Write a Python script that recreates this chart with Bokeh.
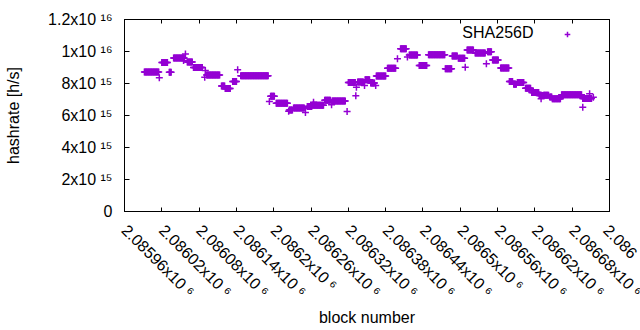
import numpy as np
from math import pi
from bokeh.plotting import figure
from bokeh.models import Range1d, LinearAxis, FixedTicker, Label, Legend, LegendItem
from bokeh.embed import file_html
from bokeh.resources import INLINE

# ---------------- data ----------------
block_base = 2085960
# runs of consecutive blocks sharing the same hashrate estimate (offsets from block_base)
run_first = [32, 60, 72, 79, 101, 111, 132, 156, 162, 174, 187, 235, 244, 265, 272, 294, 302,
             322, 334, 360, 375, 387, 396, 405, 423, 444, 458, 474, 489, 516, 527, 537, 551,
             564, 584, 592, 605, 619, 626, 632, 645, 655, 667, 674, 684, 688, 703, 737]
run_last = [55, 69, 75, 96, 109, 125, 153, 161, 170, 180, 231, 241, 262, 270, 289, 301, 320,
            331, 355, 371, 384, 394, 402, 420, 436, 453, 471, 486, 515, 526, 535, 547, 561,
            580, 590, 601, 618, 624, 630, 642, 653, 666, 672, 682, 687, 701, 735, 751]
run_rate = [8.72e15, 9.31e15, 8.71e15, 9.60e15, 9.35e15, 9.00e15, 8.53e15, 7.84e15, 7.69e15,
            8.12e15, 8.48e15, 7.20e15, 6.77e15, 6.34e15, 6.47e15, 6.56e15, 6.64e15, 6.95e15,
            6.90e15, 8.06e15, 8.10e15, 8.23e15, 8.03e15, 8.47e15, 8.95e15, 10.17e15, 9.78e15,
            9.12e15, 9.79e15, 8.92e15, 9.72e15, 9.58e15, 10.10e15, 9.91e15, 9.98e15, 9.47e15,
            8.97e15, 8.12e15, 7.96e15, 8.06e15, 7.71e15, 7.44e15, 7.25e15, 7.27e15, 7.16e15,
            7.04e15, 7.29e15, 7.06e15]
# isolated blocks
single_block = [56, 98, 95, 129, 130, 182, 233, 264, 291, 304, 333, 358, 372, 373, 386, 404,
                439, 455, 548, 582, 670, 737, 748, 754]
single_rate = [8.36e15, 9.84e15, 9.44e15, 8.39e15, 8.81e15, 8.86e15, 6.87e15, 6.27e15, 6.19e15,
               6.83e15, 6.67e15, 6.25e15, 7.24e15, 7.77e15, 7.87e15, 7.87e15, 9.54e15, 9.65e15,
               9.02e15, 9.23e15, 7.04e15, 6.52e15, 7.36e15, 7.14e15]

series_name = "SHA256D"
x_title = "block number"
y_title = "hashrate [h/s]"

xtick_vals = [2085960, 2086020, 2086080, 2086140, 2086200, 2086260, 2086320,
              2086380, 2086440, 2086500, 2086560, 2086620, 2086680, 2086740]
# the last label is cut by the window edge in the reference; only its visible part is kept
xtick_text = ["2.08596x10 \u2076", "2.08602x10 \u2076", "2.08608x10 \u2076", "2.08614x10 \u2076",
              "2.0862x10 \u2076", "2.08626x10 \u2076", "2.08632x10 \u2076", "2.08638x10 \u2076",
              "2.08644x10 \u2076", "2.0865x10 \u2076", "2.08656x10 \u2076", "2.08662x10 \u2076",
              "2.08668x10 \u2076", "2.086"]
ytick_vals = [0, 2e15, 4e15, 6e15, 8e15, 1e16, 1.2e16]
ytick_text = ["0", "2x10 \u00b9\u2075", "4x10 \u00b9\u2075", "6x10 \u00b9\u2075",
              "8x10 \u00b9\u2075", "1x10 \u00b9\u2076", "1.2x10 \u00b9\u2076"]

# ---------------- build points ----------------
bx, by = [], []
for a, b, r in zip(run_first, run_last, run_rate):
    blocks = np.arange(a, b + 1)
    bx.extend((block_base + blocks).tolist())
    by.extend([r] * len(blocks))
bx.extend([block_base + s for s in single_block])
by.extend(single_rate)

FONT = "Liberation Sans"
COLOR = "#9400d3"
W, H = 640, 330

p = figure(width=W, height=H, output_backend="svg", toolbar_location=None,
           x_range=Range1d(xtick_vals[0], xtick_vals[-1]), y_range=Range1d(0, 1.2e16),
           min_border_left=124, min_border_right=31, min_border_top=19, min_border_bottom=119)
p.background_fill_color = "white"
p.border_fill_color = "white"
p.outline_line_color = "black"
p.outline_line_width = 1
p.xgrid.grid_line_color = None
p.ygrid.grid_line_color = None

r = p.scatter(bx, by, marker="cross", size=7, line_color=COLOR, line_width=1.5)

def style_axis(ax, ticks, tick_len):
    ax.ticker = FixedTicker(ticks=ticks)
    ax.major_tick_in = tick_len
    ax.major_tick_out = 0
    ax.minor_tick_line_color = None
    ax.axis_line_color = "black"
    ax.major_tick_line_color = "black"

xa = p.xaxis[0]
ya = p.yaxis[0]
style_axis(xa, xtick_vals, 4)
style_axis(ya, ytick_vals, 5)
xa.major_label_overrides = {v: t for v, t in zip(xtick_vals, xtick_text)}
ya.major_label_overrides = {v: t for v, t in zip(ytick_vals, ytick_text)}
for ax in (xa, ya):
    ax.major_label_text_font = FONT
    ax.major_label_text_font_size = "16px"
    ax.major_label_text_color = "black"
    ax.axis_label_text_font = FONT
    ax.axis_label_text_font_size = "16px"
    ax.axis_label_text_font_style = "normal"
    ax.axis_label_text_color = "black"
xa.major_label_orientation = -pi / 4
xa.major_label_standoff = 16
ya.major_label_standoff = 12
xa.axis_label = x_title
ya.axis_label = y_title
xa.axis_label_standoff = 0
ya.axis_label_standoff = 23

top_ax = LinearAxis()
right_ax = LinearAxis()
style_axis(top_ax, xtick_vals, 4)
style_axis(right_ax, ytick_vals, 4)
for ax, ticks in ((top_ax, xtick_vals), (right_ax, ytick_vals)):
    ax.major_label_overrides = {t: "" for t in ticks}
    ax.major_label_text_font_size = "0px"
    ax.major_label_standoff = 0
p.add_layout(top_ax, "above")
p.add_layout(right_ax, "right")

# key: text then sample, like gnuplot
p.add_layout(Label(x=xtick_vals[0], y=1.2e16, x_offset=533 - 124, y_offset=-13, text=series_name,
                   text_align="right", text_baseline="middle",
                   text_font=FONT, text_font_size="16px", text_color="black"))
legend = Legend(items=[LegendItem(label="", renderers=[r])],
                location=(436, 167), padding=0, margin=0, spacing=0,
                glyph_width=14, glyph_height=20, label_height=20, label_width=0,
                label_standoff=0, label_text_font=FONT, label_text_font_size="16px",
                border_line_color=None, background_fill_alpha=0)
p.add_layout(legend)

open("out.html", "w").write(file_html(p, INLINE))
